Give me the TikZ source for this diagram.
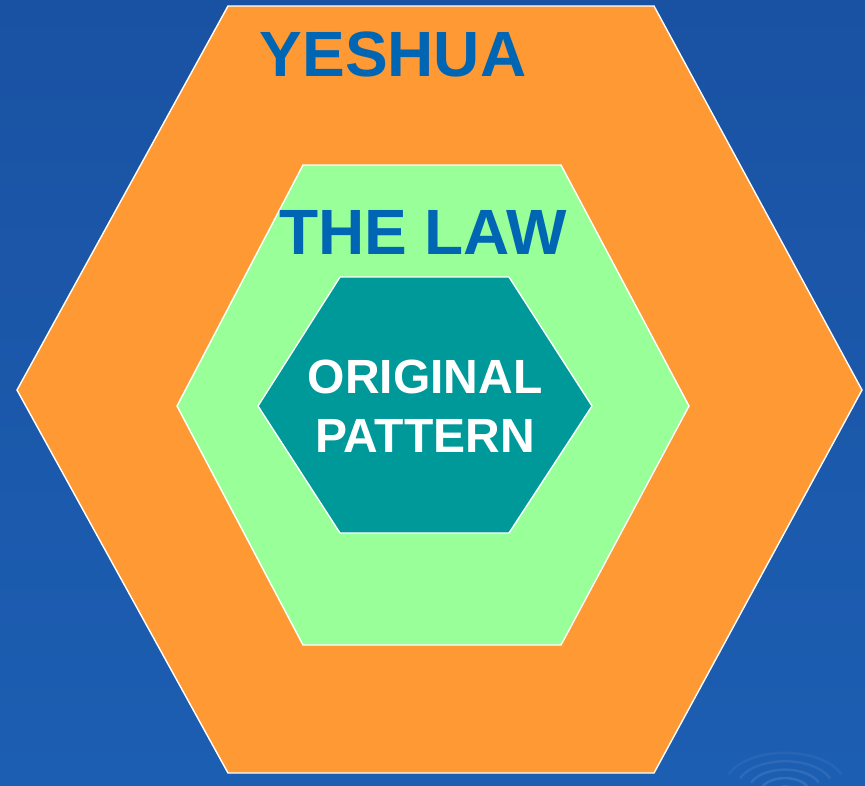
\documentclass[tikz,border=0pt]{standalone}
\usepackage{fontspec}
\setmainfont{Liberation Sans}
\definecolor{bgtop}{HTML}{1A52A3}
\definecolor{bgbot}{HTML}{1C5EB2}
\definecolor{hexorange}{HTML}{FF9933}
\definecolor{hexgreen}{HTML}{99FF99}
\definecolor{hexteal}{HTML}{009999}
\definecolor{titleblue}{HTML}{0066B3}
\tikzset{
  hexshape/.style={draw=white, line width=1.4pt, line join=miter},
  bigtitle/.style={text=titleblue, font=\fontsize{64}{70}\selectfont\bfseries, anchor=base, inner sep=0pt},
  innertitle/.style={text=white, font=\fontsize{48}{59}\selectfont\bfseries, align=center, anchor=base, inner sep=0pt},
}
\begin{document}
\begin{tikzpicture}[x=1pt,y=-1pt]
\useasboundingbox (0,0) rectangle (865,785);
\shade[top color=bgtop, bottom color=bgbot] (0,0) rectangle (865,785);
% faint ripple bottom right
\foreach \r/\o in {12/0.14,24/0.11,36/0.09,48/0.07,60/0.05}{
  \draw[white, opacity=\o, line width=2.5pt] (785,795) ++(200:\r) arc[start angle=200, end angle=340, x radius=\r, y radius=0.55*\r];
}
% outer hexagon
\filldraw[hexshape, fill=hexorange] (228,6) -- (654,6) -- (862,390) -- (654,773) -- (228,773) -- (17,390) -- cycle;
% middle hexagon
\filldraw[hexshape, fill=hexgreen] (303,165) -- (561,165) -- (689,406) -- (561,645) -- (303,645) -- (177,406) -- cycle;
% inner hexagon
\filldraw[hexshape, fill=hexteal] (340,277) -- (509,277) -- (592,406) -- (509,533) -- (340,533) -- (258,406) -- cycle;
\node[bigtitle] (yeshua) at (393,76) {YESHUA};
\node[bigtitle] (law) at (423,254) {THE LAW};
\node[innertitle] (orig) at (425,393) {ORIGINAL};
\node[innertitle] (patt) at (425,452) {PATTERN};
\end{tikzpicture}
\end{document}
